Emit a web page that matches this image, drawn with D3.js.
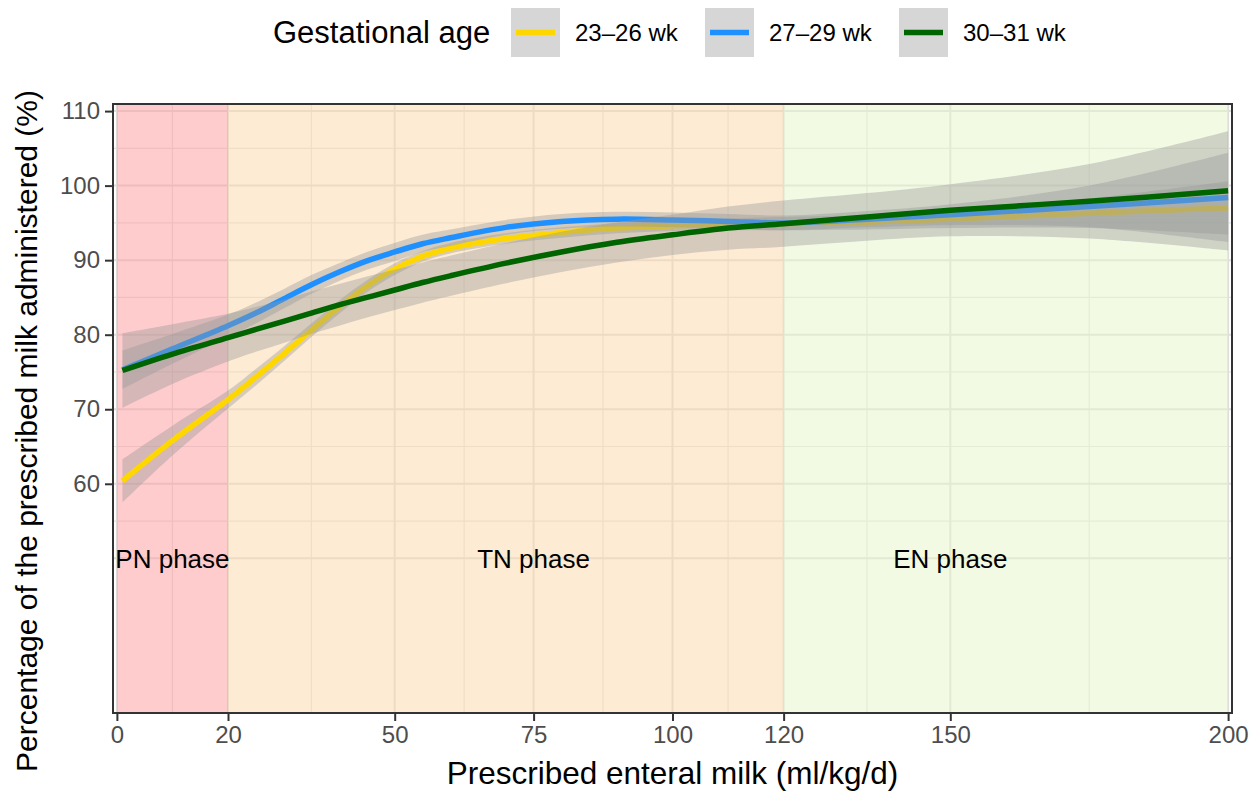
<!DOCTYPE html>
<html>
<head>
<meta charset="utf-8">
<script src="https://cdn.jsdelivr.net/npm/d3@7"></script>
<style>
  body { margin: 0; background: #fff; }
  svg { font-family: "Liberation Sans", Arial, Helvetica, sans-serif; }
</style>
</head>
<body>
<svg id="chart" width="1260" height="794"></svg>
<script>
var xs = [1, 10, 20, 25, 30, 35, 40, 45, 50, 55, 60, 70, 80, 90, 100, 110, 120, 135, 150, 175, 200];

// 23-26 wk : fit and confidence band
var ga2326    = [60.4, 65.8, 71.3, 74.3, 77.4, 80.6, 83.7, 86.5, 88.8, 90.5, 91.6, 92.9, 93.7, 94.3, 94.6, 94.8, 94.9, 95.1, 95.5, 96.3, 97.0];
var ga2326_lo = [57.5, 63.8, 70.1, 73.2, 76.4, 79.7, 82.8, 85.7, 88.0, 89.8, 90.9, 92.2, 93.0, 93.6, 93.9, 94.0, 94.0, 94.1, 94.3, 94.3, 93.4];
var ga2326_hi = [63.3, 67.8, 72.5, 75.4, 78.4, 81.5, 84.6, 87.3, 89.6, 91.2, 92.3, 93.6, 94.4, 95.0, 95.3, 95.6, 95.8, 96.1, 96.7, 98.3, 100.6];

// 27-29 wk
var ga2729    = [75.3, 78.1, 81.2, 82.9, 84.8, 86.7, 88.4, 89.9, 91.1, 92.2, 93.0, 94.4, 95.2, 95.5, 95.4, 95.2, 95.0, 95.5, 96.1, 97.2, 98.4];
var ga2729_lo = [72.7, 76.1, 79.7, 81.5, 83.5, 85.5, 87.2, 88.7, 89.9, 91.1, 91.9, 93.4, 94.2, 94.5, 94.4, 94.2, 94.0, 94.4, 94.7, 94.4, 92.4];
var ga2729_hi = [77.9, 80.1, 82.7, 84.3, 86.1, 88.0, 89.6, 91.1, 92.3, 93.4, 94.1, 95.4, 96.2, 96.5, 96.4, 96.2, 96.0, 96.6, 97.5, 100.0, 104.4];

// 30-31 wk
var ga3031    = [75.2, 77.4, 79.6, 80.7, 81.8, 82.9, 84.0, 85.0, 86.0, 87.0, 87.9, 89.6, 91.1, 92.4, 93.4, 94.3, 94.9, 95.8, 96.7, 97.9, 99.3];
var ga3031_lo = [70.2, 73.4, 76.4, 77.7, 78.9, 80.1, 81.2, 82.3, 83.3, 84.3, 85.2, 86.9, 88.4, 89.7, 90.7, 91.4, 91.8, 92.6, 93.2, 92.9, 91.3];
var ga3031_hi = [80.2, 81.4, 82.8, 83.7, 84.7, 85.8, 86.8, 87.8, 88.7, 89.7, 90.6, 92.3, 93.8, 95.1, 96.1, 97.2, 98.0, 99.0, 100.2, 102.9, 107.3];

var groups = ["23\u201326 wk", "27\u201329 wk", "30\u201331 wk"];

// feeding phases
var phaseNames = ["PN phase", "TN phase", "EN phase"];
var phaseStart = [0, 20, 120];
var phaseEnd   = [20, 120, 200];
var phaseLabelAt = [10, 75, 150];
var phaseLabelY = 50;

var xBreaks = [0, 20, 50, 75, 100, 120, 150, 200];
var yBreaks = [60, 70, 80, 90, 100, 110];

// styles
var lineColors = ["#FFD700", "#1E90FF", "#006400"];
var phaseColors = ["#FF9A9E", "#FBD7A7", "#E5F5C9"];

var svg = d3.select("#chart");
var panel = {left: 113, right: 1232, top: 104, bottom: 713};

var x = d3.scaleLinear().domain([-0.7, 200.7]).range([panel.left, panel.right]);
var y = d3.scaleLinear().domain([29.25, 110.95]).range([panel.bottom, panel.top]);

svg.append("defs").append("clipPath").attr("id", "clip")
  .append("rect")
    .attr("x", panel.left).attr("y", panel.top)
    .attr("width", panel.right - panel.left).attr("height", panel.bottom - panel.top);

var plot = svg.append("g").attr("clip-path", "url(#clip)");

// grid (theme_bw style), major and minor
var xMinor = d3.pairs(xBreaks).map(function(p) { return (p[0] + p[1]) / 2; });
var yMajor = d3.range(50, 111, 10);
var yMinor = d3.range(55, 110, 10);

plot.selectAll(".vminor").data(xMinor).enter().append("line")
  .attr("x1", d => x(d)).attr("x2", d => x(d))
  .attr("y1", panel.top).attr("y2", panel.bottom)
  .attr("stroke", "#E3E3E3").attr("stroke-width", 1.2);
plot.selectAll(".hminor").data(yMinor).enter().append("line")
  .attr("x1", panel.left).attr("x2", panel.right)
  .attr("y1", d => y(d)).attr("y2", d => y(d))
  .attr("stroke", "#E3E3E3").attr("stroke-width", 1.2);
plot.selectAll(".vmajor").data(xBreaks).enter().append("line")
  .attr("x1", d => x(d)).attr("x2", d => x(d))
  .attr("y1", panel.top).attr("y2", panel.bottom)
  .attr("stroke", "#DEDEDE").attr("stroke-width", 2);
plot.selectAll(".hmajor").data(yMajor).enter().append("line")
  .attr("x1", panel.left).attr("x2", panel.right)
  .attr("y1", d => y(d)).attr("y2", d => y(d))
  .attr("stroke", "#DEDEDE").attr("stroke-width", 2);

// phase backgrounds
plot.selectAll(".phase").data(phaseNames).enter().append("rect")
  .attr("x", (d, i) => x(phaseStart[i]))
  .attr("width", (d, i) => x(phaseEnd[i]) - x(phaseStart[i]))
  .attr("y", panel.top).attr("height", panel.bottom - panel.top)
  .attr("fill", (d, i) => phaseColors[i])
  .attr("opacity", 0.5);

// smooth fits: each group draws its ribbon then its line
var fits = [
  {fit: ga2326, lo: ga2326_lo, hi: ga2326_hi},
  {fit: ga2729, lo: ga2729_lo, hi: ga2729_hi},
  {fit: ga3031, lo: ga3031_lo, hi: ga3031_hi}
];

var area = d3.area()
  .x((d, i) => x(xs[i]))
  .y0(d => y(d[0])).y1(d => y(d[1]))
  .curve(d3.curveCatmullRom);
var line = d3.line()
  .x((d, i) => x(xs[i]))
  .y(d => y(d))
  .curve(d3.curveCatmullRom);

fits.forEach(function(g, k) {
  var band = g.lo.map((v, i) => [v, g.hi[i]]);
  plot.append("path").attr("d", area(band))
    .attr("fill", "#999999").attr("fill-opacity", 0.4);
  plot.append("path").attr("d", line(g.fit))
    .attr("fill", "none").attr("stroke", lineColors[k]).attr("stroke-width", 5.5);
});

// phase labels
plot.selectAll(".plabel").data(phaseNames).enter().append("text")
  .attr("x", (d, i) => x(phaseLabelAt[i]))
  .attr("y", y(phaseLabelY) + 9.5)
  .attr("text-anchor", "middle")
  .attr("font-size", 26)
  .attr("fill", "#000")
  .text(d => d);

// panel border
svg.append("rect")
  .attr("x", panel.left).attr("y", panel.top)
  .attr("width", panel.right - panel.left).attr("height", panel.bottom - panel.top)
  .attr("fill", "none").attr("stroke", "#333333").attr("stroke-width", 2);

// axes
var xAxis = svg.append("g")
  .attr("transform", "translate(0," + panel.bottom + ")")
  .call(d3.axisBottom(x).tickValues(xBreaks).tickSize(8).tickPadding(5));
var yAxis = svg.append("g")
  .attr("transform", "translate(" + panel.left + ",0)")
  .call(d3.axisLeft(y).tickValues(yBreaks).tickSize(8).tickPadding(5));

[xAxis, yAxis].forEach(function(a) {
  a.select(".domain").remove();
  a.selectAll(".tick line").attr("stroke", "#333333").attr("stroke-width", 2);
  a.selectAll(".tick text")
    .attr("fill", "#4D4D4D")
    .attr("font-size", 24)
    .attr("font-family", "Liberation Sans, Arial, Helvetica, sans-serif");
});

// axis titles
svg.append("text")
  .attr("x", (panel.left + panel.right) / 2)
  .attr("y", 784)
  .attr("text-anchor", "middle")
  .attr("font-size", 31.5)
  .attr("fill", "#000")
  .text("Prescribed enteral milk (ml/kg/d)");

svg.append("text")
  .attr("transform", "translate(37,431) rotate(-90)")
  .attr("text-anchor", "middle")
  .attr("font-size", 30)
  .attr("fill", "#000")
  .text("Percentage of the prescribed milk administered (%)");

// legend
var legend = svg.append("g");
legend.append("text")
  .attr("x", 273).attr("y", 43)
  .attr("font-size", 31)
  .attr("fill", "#000")
  .text("Gestational age");

var keyX = [511, 705, 899];
groups.forEach(function(name, k) {
  var g = legend.append("g").attr("transform", "translate(" + keyX[k] + ",8)");
  g.append("rect").attr("width", 49).attr("height", 49).attr("fill", "#D6D6D6");
  g.append("line")
    .attr("x1", 5).attr("x2", 44).attr("y1", 24.5).attr("y2", 24.5)
    .attr("stroke", lineColors[k]).attr("stroke-width", 5.5);
  g.append("text")
    .attr("x", 64).attr("y", 33)
    .attr("font-size", 24)
    .attr("fill", "#000")
    .text(name);
});
</script>
</body>
</html>
